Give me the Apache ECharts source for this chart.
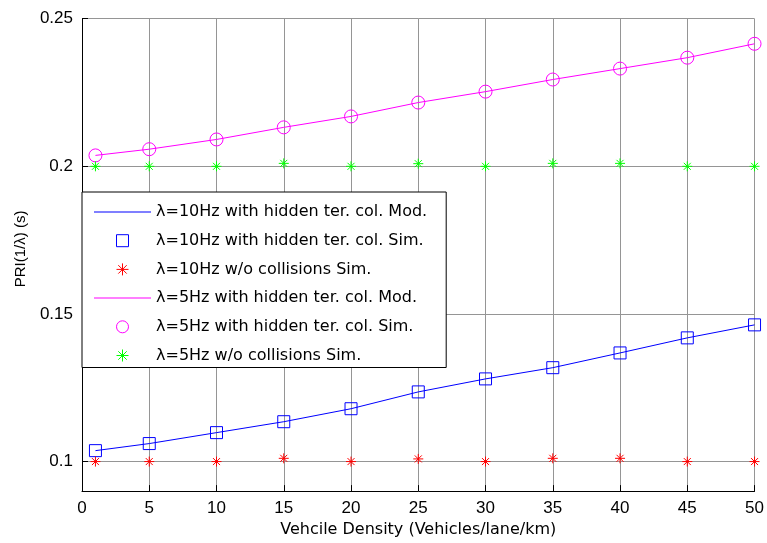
<!DOCTYPE html>
<html>
<head>
<meta charset="utf-8">
<script src="https://cdn.jsdelivr.net/npm/echarts@6/dist/echarts.min.js"></script>
<style>
html,body{margin:0;padding:0;background:#fff;}
#chart{width:767px;height:543px;}
</style>
</head>
<body>
<div id="chart"></div>
<script>
// ---- data ----
const xValues = [1, 5, 10, 15, 20, 25, 30, 35, 40, 45, 50];
const hz10Mod = [0.1037, 0.1061, 0.1098, 0.1135, 0.1179, 0.1236, 0.1280, 0.1318, 0.1368, 0.1419, 0.1463];
const hz10Sim = [0.1037, 0.1061, 0.1098, 0.1135, 0.1179, 0.1236, 0.1280, 0.1318, 0.1368, 0.1419, 0.1463];
const hz10NoCol = [0.1000, 0.1000, 0.1000, 0.1011, 0.1000, 0.1009, 0.1000, 0.1011, 0.1011, 0.1000, 0.1000];
const hz5Mod = [0.2037, 0.2058, 0.2091, 0.2132, 0.2169, 0.2216, 0.2253, 0.2294, 0.2331, 0.2368, 0.2415];
const hz5Sim = [0.2037, 0.2058, 0.2091, 0.2132, 0.2169, 0.2216, 0.2253, 0.2294, 0.2331, 0.2368, 0.2415];
const hz5NoCol = [0.2000, 0.2000, 0.2000, 0.2010, 0.2000, 0.2009, 0.2000, 0.2010, 0.2010, 0.2000, 0.2000];
const yTickValues = [0.1, 0.15, 0.2, 0.25];
const seriesNames = [
  'λ=10Hz with hidden ter. col. Mod.',
  'λ=10Hz with hidden ter. col. Sim.',
  'λ=10Hz w/o collisions Sim.',
  'λ=5Hz with hidden ter. col. Mod.',
  'λ=5Hz with hidden ter. col. Sim.',
  'λ=5Hz w/o collisions Sim.'
];
const xAxisTitle = 'Vehcile Density (Vehicles/lane/km)';
const yAxisTitle = 'PRI(1/λ) (s)';

const pair = arr => xValues.map((x, i) => [x, arr[i]]);
const STAR = 'path://M5,0L5,10M0,5L10,5M1.5,1.5L8.5,8.5M8.5,1.5L1.5,8.5';
const SQUARE = 'path://M0,0L10,0L10,10L0,10Z';
const LINEICON = 'path://M0,0L57,0L57,1L0,1Z';
const BLUE = '#0000ff', RED = '#ff0000', MAG = '#ff00ff', GRN = '#00ff00';
const GRID = '#959595';

const chart = echarts.init(document.getElementById('chart'), null, {renderer: 'canvas'});
const lineSeries = (name, data, color) => ({
  name, type: 'line', data: pair(data), symbol: 'none', showSymbol: false,
  lineStyle: {color, width: 1}, itemStyle: {color}, silent: true, animation: false, z: 3
});
const markSeries = (name, data, symbol, size, color) => ({
  name, type: 'scatter', data: pair(data), symbol, symbolSize: size,
  itemStyle: {color: 'none', borderColor: color, borderWidth: 1, opacity: 1},
  silent: true, animation: false, z: 4
});

const option = {
  animation: false,
  backgroundColor: '#fff',
  grid: {left: 82, right: 10, top: 18.7, bottom: 51.3, containLabel: false},
  xAxis: {
    type: 'value', min: 0, max: 50, interval: 5,
    name: xAxisTitle, nameLocation: 'middle', nameGap: 30,
    nameTextStyle: {fontFamily: 'DejaVu Sans', fontSize: 16, color: '#000'},
    axisLine: {show: true, onZero: false, lineStyle: {color: '#000', width: 1}},
    axisTick: {show: true, inside: true, length: 6, lineStyle: {color: '#000'}},
    axisLabel: {fontFamily: 'Liberation Sans', fontSize: 17, color: '#000', margin: 9},
    splitLine: {show: true, lineStyle: {color: GRID, width: 1}}
  },
  yAxis: {
    type: 'value', min: 0.09, max: 0.25, interval: 0.01,
    name: yAxisTitle, nameLocation: 'middle', nameGap: 54,
    nameTextStyle: {fontFamily: 'Liberation Sans', fontSize: 15, color: '#000', padding: [0, 0, 0, 12]},
    axisLine: {show: true, onZero: false, lineStyle: {color: '#000', width: 1}},
    axisTick: {show: true, inside: true, length: 6, lineStyle: {color: '#000'}, customValues: yTickValues},
    axisLabel: {fontFamily: 'Liberation Sans', fontSize: 17, color: '#000', margin: 9,
      customValues: yTickValues, formatter: v => String(+(+v).toFixed(2))},
    splitLine: {show: true, lineStyle: {color: GRID, width: 1}, customValues: yTickValues}
  },
  legend: {
    show: true, orient: 'vertical', left: 82, top: 192,
    backgroundColor: '#fff', borderColor: '#000', borderWidth: 1, borderRadius: 0,
    padding: [11, 19, 3, 12],
    itemWidth: 57, itemHeight: 12, itemGap: 10.7,
    textStyle: {fontFamily: 'DejaVu Sans', fontSize: 16, color: '#000', lineHeight: 18},
    selectedMode: false, z: 10,
    data: [
      {name: seriesNames[0], icon: LINEICON, itemStyle: {color: BLUE, borderWidth: 0}},
      {name: seriesNames[1], icon: SQUARE, itemStyle: {color: 'none', borderColor: BLUE, borderWidth: 1}},
      {name: seriesNames[2], icon: STAR, itemStyle: {color: 'none', borderColor: RED, borderWidth: 1}},
      {name: seriesNames[3], icon: LINEICON, itemStyle: {color: MAG, borderWidth: 0}},
      {name: seriesNames[4], icon: 'circle', itemStyle: {color: 'none', borderColor: MAG, borderWidth: 1}},
      {name: seriesNames[5], icon: STAR, itemStyle: {color: 'none', borderColor: GRN, borderWidth: 1}}
    ]
  },
  series: [
    lineSeries(seriesNames[0], hz10Mod, BLUE),
    markSeries(seriesNames[1], hz10Sim, SQUARE, 12, BLUE),
    markSeries(seriesNames[2], hz10NoCol, STAR, 10, RED),
    lineSeries(seriesNames[3], hz5Mod, MAG),
    markSeries(seriesNames[4], hz5Sim, 'circle', 13, MAG),
    markSeries(seriesNames[5], hz5NoCol, STAR, 10, GRN)
  ]
};
chart.setOption(option);
</script>
</body>
</html>
